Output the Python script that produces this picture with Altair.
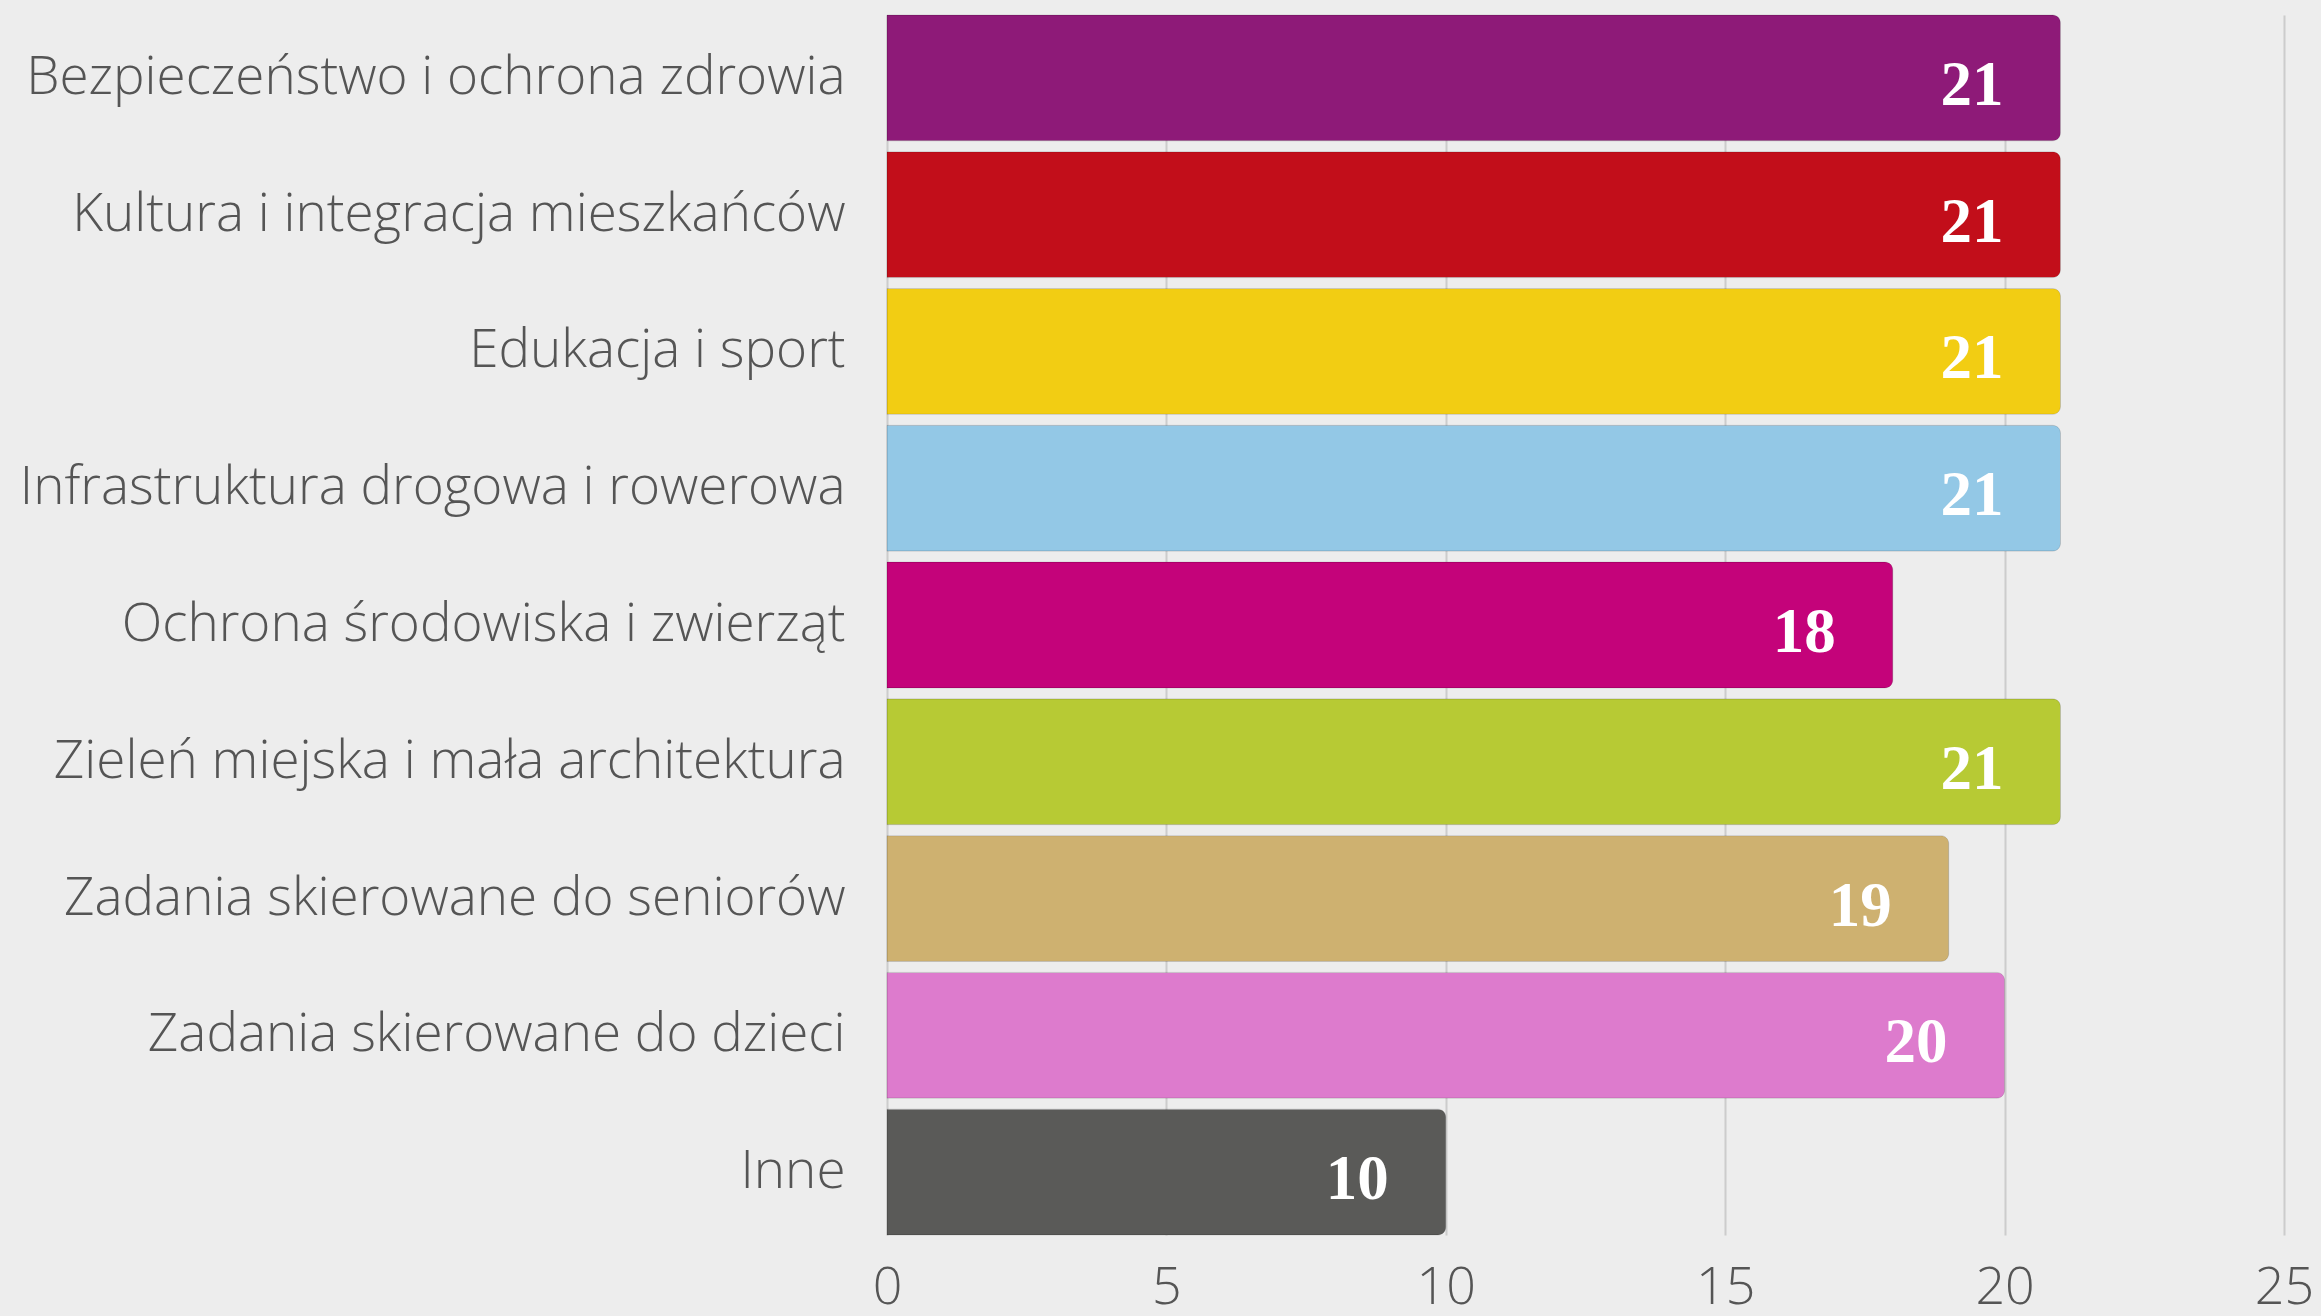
import altair as alt
import pandas as pd

categories = [
    "Bezpieczeństwo i ochrona zdrowia",
    "Kultura i integracja mieszkańców",
    "Edukacja i sport",
    "Infrastruktura drogowa i rowerowa",
    "Ochrona środowiska i zwierząt",
    "Zieleń miejska i mała architektura",
    "Zadania skierowane do seniorów",
    "Zadania skierowane do dzieci",
    "Inne",
]
values = [21, 21, 21, 21, 18, 21, 19, 20, 10]
colors = ["#8E1A78", "#C20E1A", "#F2CD13", "#93C8E6", "#C4037A",
          "#B7CA34", "#CEB170", "#DD7BCD", "#5A5A58"]

df = pd.DataFrame({"kategoria": categories, "wartosc": values})

y = alt.Y("kategoria:N", sort=categories, title=None,
          scale=alt.Scale(paddingInner=0.08, paddingOuter=0),
          axis=alt.Axis(labelFont="Open Sans", labelFontWeight=300, labelFontSize=53,
                        labelColor="#555555", labelPadding=42, ticks=False,
                        domain=False, grid=False, labelLimit=1000))
x = alt.X("wartosc:Q", title=None,
          scale=alt.Scale(domain=[0, 25], nice=False),
          axis=alt.Axis(values=[0, 5, 10, 15, 20, 25], labelFont="Open Sans",
                        labelFontWeight=300, labelFontSize=52, labelColor="#555555",
                        labelPadding=27, ticks=False, domain=False, grid=True,
                        gridColor="#CCCCCC", gridWidth=2, labelFlush=False))

bars = alt.Chart(df).mark_bar(cornerRadiusEnd=8, stroke="#000000", strokeOpacity=0.12,
                              strokeWidth=1).encode(
    x=x, y=y,
    color=alt.Color("kategoria:N", sort=categories,
                    scale=alt.Scale(domain=categories, range=colors), legend=None),
)

labels = alt.Chart(df).mark_text(align="right", baseline="middle", dx=-57, dy=8,
                                 font="Liberation Serif", fontWeight="bold",
                                 fontSize=63, color="white").encode(
    x="wartosc:Q", y=alt.Y("kategoria:N", sort=categories),
    text="wartosc:Q",
)

chart = (bars + labels).properties(
    width=1397, height=1220,
    autosize=alt.AutoSizeParams(type="none"),
    padding={"left": 887, "top": 15, "right": 37, "bottom": 81},
    background="#EDEDED",
).configure_view(stroke=None)

chart.save("out.html", embed_options={"renderer": "svg", "actions": False})
